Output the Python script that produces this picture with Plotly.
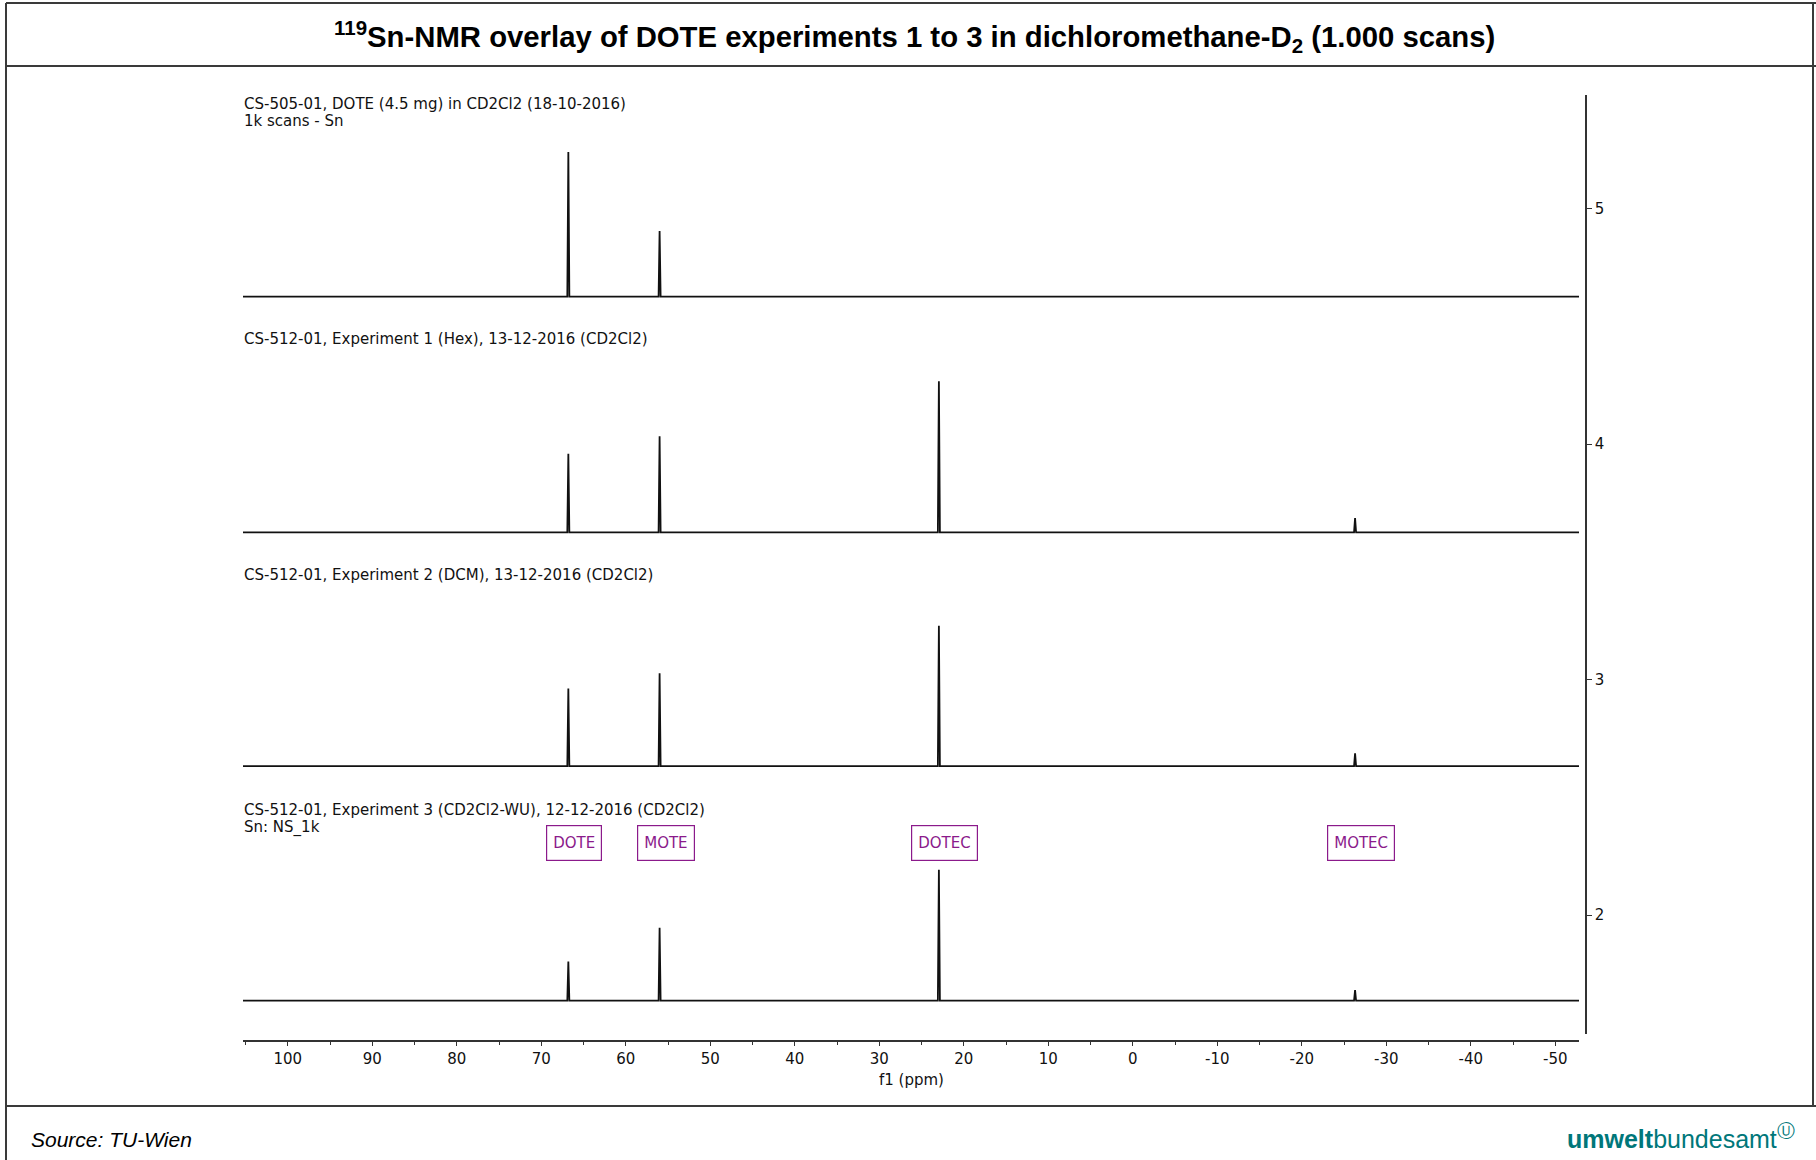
import plotly.graph_objects as go

# ---------------- data ----------------
species = ["DOTE", "MOTE", "DOTEC", "MOTEC"]
shift_ppm = [66.8, 56.0, 22.95, -26.3]

spectrum_titles = [
    ["CS-505-01, DOTE (4.5 mg) in CD2Cl2 (18-10-2016)", "1k scans - Sn"],
    ["CS-512-01, Experiment 1 (Hex), 13-12-2016 (CD2Cl2)"],
    ["CS-512-01, Experiment 2 (DCM), 13-12-2016 (CD2Cl2)"],
    ["CS-512-01, Experiment 3 (CD2Cl2-WU), 12-12-2016 (CD2Cl2)", "Sn: NS_1k"],
]
baseline = [4.626, 3.625, 2.632, 1.636]
peak_height_s1 = [0.614, 0.278, 0.0, 0.0]
peak_height_s2 = [0.334, 0.408, 0.641, 0.061]
peak_height_s3 = [0.330, 0.394, 0.596, 0.055]
peak_height_s4 = [0.167, 0.310, 0.556, 0.045]
peak_heights = [peak_height_s1, peak_height_s2, peak_height_s3, peak_height_s4]

ppm_start = 105.3
ppm_end = -52.8
x_tick_vals = [100, 90, 80, 70, 60, 50, 40, 30, 20, 10, 0, -10, -20, -30, -40, -50]
x_tick_text = ["100", "90", "80", "70", "60", "50", "40", "30", "20", "10", "0",
               "-10", "-20", "-30", "-40", "-50"]
y_tick_vals = [2, 3, 4, 5]
y_range = [1.4947, 5.482]
label_y = 2.30

# ---------------- geometry ----------------
W, H = 1816, 1160
L, R, T, B = 243, 230, 95, 119
PW = W - L - R
PH = H - T - B


def px(X):
    return (X - L) / PW


def py(Y):
    return (H - B - Y) / PH


HALF_W = 0.12  # peak half width (ppm)

fig = go.Figure()
order = sorted(range(len(shift_ppm)), key=lambda i: -shift_ppm[i])
for s, base in enumerate(baseline):
    xs = [ppm_start]
    ys = [base]
    for i in order:
        h = peak_heights[s][i]
        if h > 0:
            p = shift_ppm[i]
            xs += [p + HALF_W, p, p - HALF_W]
            ys += [base, base + h, base]
    xs.append(ppm_end)
    ys.append(base)
    fig.add_trace(go.Scatter(x=xs, y=ys, mode="lines",
                             line=dict(color="#111111", width=1.8),
                             hoverinfo="skip", showlegend=False))

annotations = []
# spectrum titles
title_pos = [[103.5, 121], [338.5], [575], [810, 827.5]]
for lines, ys_ in zip(spectrum_titles, title_pos):
    for txt, Y in zip(lines, ys_):
        annotations.append(dict(text=txt, xref="paper", yref="paper", x=px(242), y=py(Y),
                                xanchor="left", yanchor="middle", showarrow=False,
                                font=dict(family="DejaVu Sans", size=15, color="#111111")))

# species boxes
for name, p in zip(species, shift_ppm):
    annotations.append(dict(text=name, x=p, y=label_y, xref="x", yref="y",
                            xshift=6, yshift=1, showarrow=False, xanchor="center", yanchor="middle",
                            height=22, valign="middle",
                            bordercolor="#8B1A8B", borderwidth=1.2, borderpad=6,
                            bgcolor="white",
                            font=dict(family="DejaVu Sans", size=15, color="#8B1A8B")))

# axis title
annotations.append(dict(text="f1 (ppm)", xref="paper", yref="paper", x=px(911), y=py(1080),
                        xanchor="center", yanchor="middle", showarrow=False,
                        font=dict(family="DejaVu Sans", size=15, color="#111111")))

# main title
annotations.append(dict(
    text="<b><sup>119</sup>Sn-NMR overlay of DOTE experiments 1 to 3 in dichloromethane-D<sub>2</sub> (1.000 scans)</b>",
    xref="paper", yref="paper", x=px(914), y=py(37), xanchor="center", yanchor="middle",
    showarrow=False, font=dict(family="Liberation Sans, Arial, sans-serif", size=29.3, color="#000000")))

# source
annotations.append(dict(text="<i>Source: TU-Wien</i>", xref="paper", yref="paper",
                        x=px(29), y=py(1139), xanchor="left", yanchor="middle", showarrow=False,
                        font=dict(family="Liberation Sans, Arial, sans-serif", size=21, color="#000000")))

# logo
annotations.append(dict(text="<b>umwelt</b>bundesamt<sup>Ⓤ</sup>", xref="paper", yref="paper",
                        x=px(1797), y=py(1137), xanchor="right", yanchor="middle", showarrow=False,
                        font=dict(family="Liberation Sans, Arial, sans-serif", size=25, color="#00777A")))

frame_col = "#3a3a3a"
shapes = [
    dict(type="line", xref="paper", yref="paper", x0=px(6), x1=px(1816), y0=py(3), y1=py(3),
         line=dict(color=frame_col, width=2)),
    dict(type="line", xref="paper", yref="paper", x0=px(6), x1=px(1816), y0=py(66), y1=py(66),
         line=dict(color=frame_col, width=2)),
    dict(type="line", xref="paper", yref="paper", x0=px(6), x1=px(1816), y0=py(1106), y1=py(1106),
         line=dict(color=frame_col, width=2)),
    dict(type="line", xref="paper", yref="paper", x0=px(6), x1=px(6), y0=py(3), y1=py(1160),
         line=dict(color=frame_col, width=2)),
    dict(type="line", xref="paper", yref="paper", x0=px(1813), x1=px(1813), y0=py(3), y1=py(1106),
         line=dict(color=frame_col, width=2)),
]

fig.update_layout(
    width=W, height=H,
    margin=dict(l=L, r=R, t=T, b=B, pad=0),
    paper_bgcolor="white", plot_bgcolor="white",
    showlegend=False,
    annotations=annotations,
    shapes=shapes,
    xaxis=dict(domain=[0, px(1579)], range=[ppm_start, ppm_end], anchor="free", position=0,
               showline=True, linecolor="#333333", linewidth=1.5,
               showgrid=False, zeroline=False,
               ticks="outside", ticklen=4, tickwidth=1.2, tickcolor="#333333",
               tickmode="array", tickvals=x_tick_vals, ticktext=x_tick_text,
               tickfont=dict(family="DejaVu Sans", size=15, color="#111111"),
               minor=dict(tickmode="linear", tick0=0, dtick=5, ticks="outside", ticklen=3,
                          tickwidth=1.2, tickcolor="#333333", showgrid=False)),
    yaxis=dict(domain=[py(1034), 1], range=y_range, side="right", anchor="free", position=1,
               showline=True, linecolor="#333333", linewidth=1.5,
               showgrid=False, zeroline=False,
               ticks="outside", ticklen=5, tickwidth=1.2, tickcolor="#333333",
               tickmode="array", tickvals=y_tick_vals,
               tickfont=dict(family="DejaVu Sans", size=15, color="#111111")),
)

fig.write_html("out.html", config={"displayModeBar": False},
               post_script="document.body.style.margin='0';document.body.style.overflow='hidden';")
